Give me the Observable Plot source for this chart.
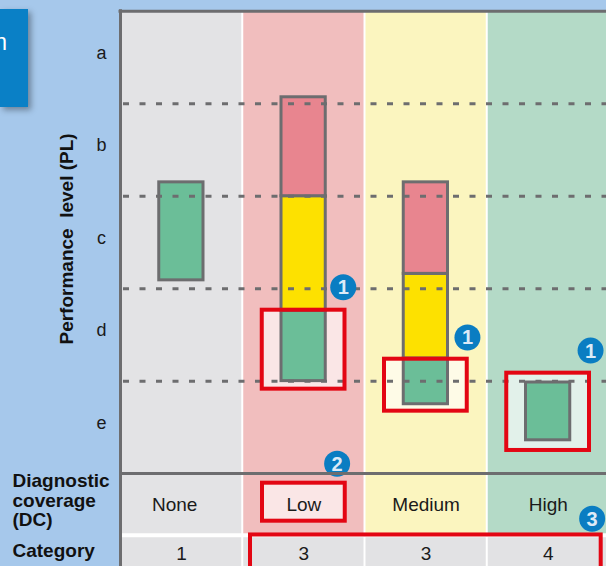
<!DOCTYPE html>
<html><head><meta charset="utf-8">
<script src="https://cdn.jsdelivr.net/npm/d3@7"></script>
<script src="https://cdn.jsdelivr.net/npm/@observablehq/plot@0.6"></script>
<style>
html,body{margin:0;padding:0;background:#a6c8eb;}
#wrap{position:relative;width:606px;height:566px;overflow:hidden;}
#tab{position:absolute;left:0;top:9px;width:28px;height:98px;background:#0a80c6;box-shadow:3px 3px 6px rgba(0,0,0,0.35);overflow:hidden;}
#tab span{position:absolute;right:21px;top:20px;color:#fff;font:23px "Liberation Sans",Arial,sans-serif;}
</style></head>
<body><div id="wrap"><div id="chart"></div><div id="tab"><span>n</span></div></div>
<script>
// ---- data ----
const levels = ["e", "d", "c", "b", "a"];              // Performance level, bottom to top
const dcLevels = ["None", "Low", "Medium", "High"];    // Diagnostic coverage columns
const categories = ["1", "3", "3", "4"];               // Category per DC column

// bar segments (PL range covered, coloured by MTTFd)
const segDC    = ["None", "Low", "Low", "Low", "Medium", "Medium", "Medium", "High"];
const segMTTFd = ["High", "High", "Medium", "Low", "High", "Medium", "Low", "High"];
const segFrom  = [2.09, 1.0, 1.76, 3.0, 0.75, 1.245, 2.16, 0.36];
const segTo    = [3.15, 1.76, 3.0, 4.07, 1.245, 2.16, 3.15, 0.985];

// highlighted (achieved) ranges
const hlDC   = ["Low", "Medium", "High"];
const hlFrom = [0.913, 0.675, 0.25];
const hlTo   = [1.767, 1.237, 1.086];

// callout markers
const calloutLabel = ["1", "1", "1", "2", "3"];
const calloutX = [1.822, 2.838, 3.845, 1.772, 3.858];
const calloutY = [2.016, 1.472, 1.33, 0.106, -0.489];

// table rows (in PL units below the chart)
const dcRowY = -0.334, catRowY = -0.865;
const dcRowBottom = -0.651, catRowTop = -0.694, yMin = -1.005;

// ---- styles ----
const gray = "#6d6d6f", red = "#e30613", blue = "#0a7dc2", ink = "#1a1a1a";
const colBg = {None: "#e3e3e5", Low: "#f1bebe", Medium: "#fbf5bf", High: "#b4dac7"};
const font = '"Liberation Sans", Arial, sans-serif';

const segments = segDC.map((dc, i) => ({dc, mttf: segMTTFd[i], from: segFrom[i], to: segTo[i]}));
const highlights = hlDC.map((dc, i) => ({dc, from: hlFrom[i], to: hlTo[i]}));
const callouts = calloutLabel.map((t, i) => ({t, x: calloutX[i], y: calloutY[i]}));
const col = d => dcLevels.indexOf(d);
const nTop = levels.length;

const chart = Plot.plot({
  width: 606, height: 566,
  x: {domain: [0, dcLevels.length], range: [120, 609], axis: null},
  y: {domain: [yMin, nTop], range: [566, 10.8], axis: null},
  color: {domain: ["Low", "Medium", "High"], range: ["#e8858f", "#fde100", "#6bbe98"]},
  style: {background: "#a6c8eb", fontFamily: font, overflow: "visible"},
  marks: [
    // white underlay
    Plot.rect([0], {x1: 0, x2: dcLevels.length, y1: yMin, y2: nTop, fill: "white"}),
    // column backgrounds (chart + DC row)
    Plot.rect(dcLevels, {x1: (d, i) => i, x2: (d, i) => i + 1, y1: dcRowBottom, y2: nTop, fill: d => colBg[d], insetLeft: 1, insetRight: 1}),
    // category row cells
    Plot.rect(categories, {x1: (d, i) => i, x2: (d, i) => i + 1, y1: yMin, y2: catRowTop, fill: "#e2e2e4", insetLeft: 1, insetRight: 1}),
    // highlight fills
    Plot.rect(highlights, {x1: d => col(d.dc), x2: d => col(d.dc) + 1, y1: "from", y2: "to", fill: "white", fillOpacity: 0.62, insetLeft: 19.5, insetRight: 20}),
    Plot.rect(["Low"], {x1: d => col(d), x2: d => col(d) + 1, y1: -0.515, y2: -0.104, fill: "white", fillOpacity: 0.62, insetLeft: 19.75, insetRight: 19.75}),
    // bars
    Plot.rect(segments, {x1: d => col(d.dc), x2: d => col(d.dc) + 1, y1: "from", y2: "to", fill: "mttf", stroke: gray, strokeWidth: 3, insetLeft: 38.75, insetRight: 39.25}),
    // dashed level boundaries
    Plot.ruleY(d3.range(1, nTop), {x1: 0, x2: dcLevels.length, stroke: gray, strokeWidth: 3, strokeDasharray: "6,10.5", strokeDashoffset: -3}),
    // highlight outlines
    Plot.rect(highlights, {x1: d => col(d.dc), x2: d => col(d.dc) + 1, y1: "from", y2: "to", fill: "none", stroke: red, strokeWidth: 4, insetLeft: 19.5, insetRight: 20}),
    Plot.rect(["Low"], {x1: d => col(d), x2: d => col(d) + 1, y1: -0.515, y2: -0.104, fill: "none", stroke: red, strokeWidth: 4, insetLeft: 19.75, insetRight: 19.75}),
    Plot.rect([{from: "Low", to: "High"}], {x1: d => col(d.from), x2: d => col(d.to) + 1, y1: -1.06, y2: -0.664, fill: "none", stroke: red, strokeWidth: 4, insetLeft: 7.75, insetRight: 8.3}),
    // callouts
    Plot.dot(callouts, {x: "x", y: "y", r: 13, fill: blue}),
    Plot.text(callouts, {x: "x", y: "y", text: "t", fill: "#dceaf7", fontWeight: "bold", fontSize: 20, dy: 0.5}),
    // frame
    Plot.ruleY([0], {x1: 0, x2: dcLevels.length, stroke: gray, strokeWidth: 3}),
    Plot.ruleY([nTop], {x1: 0, x2: dcLevels.length, stroke: gray, strokeWidth: 3, strokeLinecap: "square"}),
    Plot.ruleX([0], {y1: yMin, y2: nTop, stroke: gray, strokeWidth: 3, strokeLinecap: "square"}),
    // PL letters
    Plot.text(levels, {x: 0, y: (d, i) => i + 0.5, text: d => d, dx: -19, dy: -4.5, fontSize: 18, fill: ink}),
    // y title
    Plot.text(["Performance\u00a0 level (PL)"], {x: 0, y: nTop / 2, dx: -54, dy: -3.5, rotate: -90, fontWeight: "bold", fontSize: 19, fill: "#111"}),
    // table texts
    Plot.text(dcLevels, {filter: d => d === "None", x: d => col(d) + 0.5, y: dcRowY, text: d => d, dx: -7, fontSize: 19, fill: ink}),
    Plot.text(dcLevels, {filter: d => d !== "None", x: d => col(d) + 0.5, y: dcRowY, text: d => d, fontSize: 19, fill: ink}),
    Plot.text(categories, {x: (d, i) => i + 0.5, y: catRowY, text: d => d, fontSize: 19, fill: ink}),
    Plot.text(["Diagnostic\ncoverage\n(DC)"], {x: 0, y: dcRowY, dx: -108, dy: -4, textAnchor: "start", fontWeight: "bold", fontSize: 19, lineHeight: 1.02, fill: "#111"}),
    Plot.text(["Category"], {x: 0, y: catRowY, dx: -108, dy: -3, textAnchor: "start", fontWeight: "bold", fontSize: 19, fill: "#111"})
  ]
});
document.getElementById("chart").append(chart);
</script>
</body></html>
